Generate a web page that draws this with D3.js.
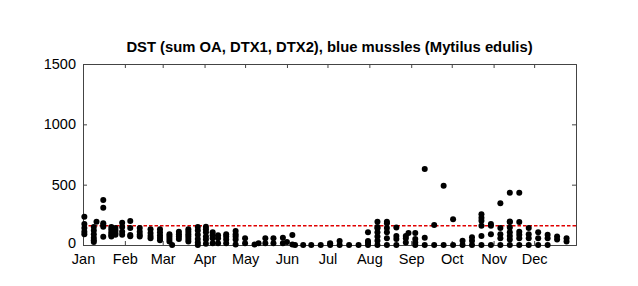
<!DOCTYPE html>
<html>
<head>
<meta charset="utf-8">
<script src="https://cdn.jsdelivr.net/npm/d3@7"></script>
<style>
body { margin: 0; background: #fff; }
text { font-family: "Liberation Sans", Arial, sans-serif; }
</style>
</head>
<body>
<div id="chart"></div>
<script>
// sampling days (day of year) and DST values measured on each day
var sampleDays = [1, 8, 10, 15, 21, 24, 29, 35, 42, 50, 57, 64, 66, 71, 78, 85, 91, 96, 100, 106,
  113, 120, 127, 130, 135, 141, 148, 151, 155, 157, 163, 169, 176, 183, 190, 197, 204, 211, 218, 225,
  232, 239, 241, 246, 253, 260, 267, 274, 281, 288, 295, 302, 309, 316, 323, 330, 337, 344, 351, 358];

var dstByDay = [
  [235, 175, 140, 110, 90],
  [150, 120, 90, 60, 40, 25],
  [193],
  [373, 309, 180, 165, 152, 69],
  [150, 130, 110, 95, 80, 70],
  [140, 120, 100, 85],
  [185, 150, 110, 85],
  [199, 140, 83, 72],
  [140, 110, 85, 70],
  [130, 100, 75, 55],
  [130, 105, 80, 60, 40],
  [90, 70, 50, 30],
  [0],
  [110, 90, 70, 50],
  [130, 110, 90, 70, 50, 30],
  [150, 120, 85, 50, 20, 0],
  [152, 130, 105, 70, 45, 10],
  [105, 80, 55, 15],
  [80, 55, 15],
  [90, 70, 45, 15],
  [115, 90, 70, 45, 5],
  [55, 15],
  [5],
  [15],
  [55, 15],
  [55, 15],
  [60, 15],
  [25],
  [83, 5],
  [0],
  [0],
  [0],
  [0],
  [15, 0],
  [33, 0],
  [0],
  [0],
  [105, 33, 20, 0],
  [193, 150, 138, 105, 70, 35, 0],
  [193, 180, 140, 105, 55, 0],
  [145, 75, 50, 0],
  [75, 55, 20],
  [100],
  [100, 50, 20, 0],
  [630, 60, 0],
  [165, 0],
  [490, 0],
  [213, 0],
  [36, 0],
  [65, 35, 0],
  [254, 225, 200, 160, 75, 0],
  [174, 160, 90, 0],
  [345, 140, 90, 55, 0],
  [434, 195, 190, 145, 105, 75, 45, 0],
  [434, 190, 110, 85, 55, 0],
  [140, 90, 55, 0],
  [105, 55, 0],
  [85, 55, 0],
  [70, 45],
  [55, 30]
];

var monthStarts = [0, 31, 59, 90, 120, 151, 181, 212, 243, 273, 304, 334];
var monthNames = ["Jan", "Feb", "Mar", "Apr", "May", "Jun", "Jul", "Aug", "Sep", "Oct", "Nov", "Dec"];
var yTicks = [0, 500, 1000, 1500];
var limitValue = 160;
var chartTitle = "DST (sum OA, DTX1, DTX2), blue mussles (Mytilus edulis)";

var width = 638, height = 286;
var margin = {top: 64, right: 62, bottom: 41, left: 83};

var svg = d3.select("#chart").append("svg")
  .attr("width", width)
  .attr("height", height);

var x = d3.scaleLinear().domain([0, 365]).range([margin.left, width - margin.right]);
var y = d3.scaleLinear().domain([0, 1500]).range([height - margin.bottom, margin.top]);

var points = [];
sampleDays.forEach(function(day, i) {
  dstByDay[i].forEach(function(v) { points.push({day: day, value: v}); });
});

var axisColor = "#444";

// bottom axis, ticks inward
var xAxis = svg.append("g")
  .attr("transform", "translate(0," + y(0) + ")")
  .call(d3.axisBottom(x).tickValues(monthStarts).tickSize(-4).tickPadding(9)
    .tickFormat(function(d, i) { return monthNames[i]; }));
// top axis
var xTop = svg.append("g")
  .attr("transform", "translate(0," + y(1500) + ")")
  .call(d3.axisTop(x).tickValues(monthStarts).tickSize(-4).tickFormat(""));
// left axis
var yAxis = svg.append("g")
  .attr("transform", "translate(" + x(0) + ",0)")
  .call(d3.axisLeft(y).tickValues(yTicks).tickSize(-4).tickPadding(7).tickFormat(d3.format("d")));
// right axis
var yRight = svg.append("g")
  .attr("transform", "translate(" + x(365) + ",0)")
  .call(d3.axisRight(y).tickValues(yTicks).tickSize(-4).tickFormat(""));

[xAxis, xTop, yAxis, yRight].forEach(function(g) {
  g.select(".domain").attr("stroke", axisColor);
  g.selectAll(".tick line").attr("stroke", axisColor);
  g.selectAll(".tick text").attr("fill", "#000").style("font-size", "14.5px");
});

// the "0" label sits just above the month labels, as in the original
yAxis.selectAll(".tick text").filter(function(d) { return d === 0; }).attr("dy", "0.2em");

// limit line
svg.append("line")
  .attr("x1", x(0)).attr("x2", x(365))
  .attr("y1", y(limitValue)).attr("y2", y(limitValue))
  .attr("stroke", "#e00000")
  .attr("stroke-width", 1.4)
  .attr("stroke-dasharray", "3.5,2");

svg.append("g").selectAll("circle")
  .data(points)
  .enter().append("circle")
  .attr("cx", function(d) { return x(d.day); })
  .attr("cy", function(d) { return y(d.value); })
  .attr("r", 3)
  .attr("fill", "#000");

svg.append("text")
  .attr("x", (x(0) + x(365)) / 2)
  .attr("y", 52)
  .attr("text-anchor", "middle")
  .style("font-size", "14.8px")
  .style("font-weight", "bold")
  .text(chartTitle);
</script>
</body>
</html>
